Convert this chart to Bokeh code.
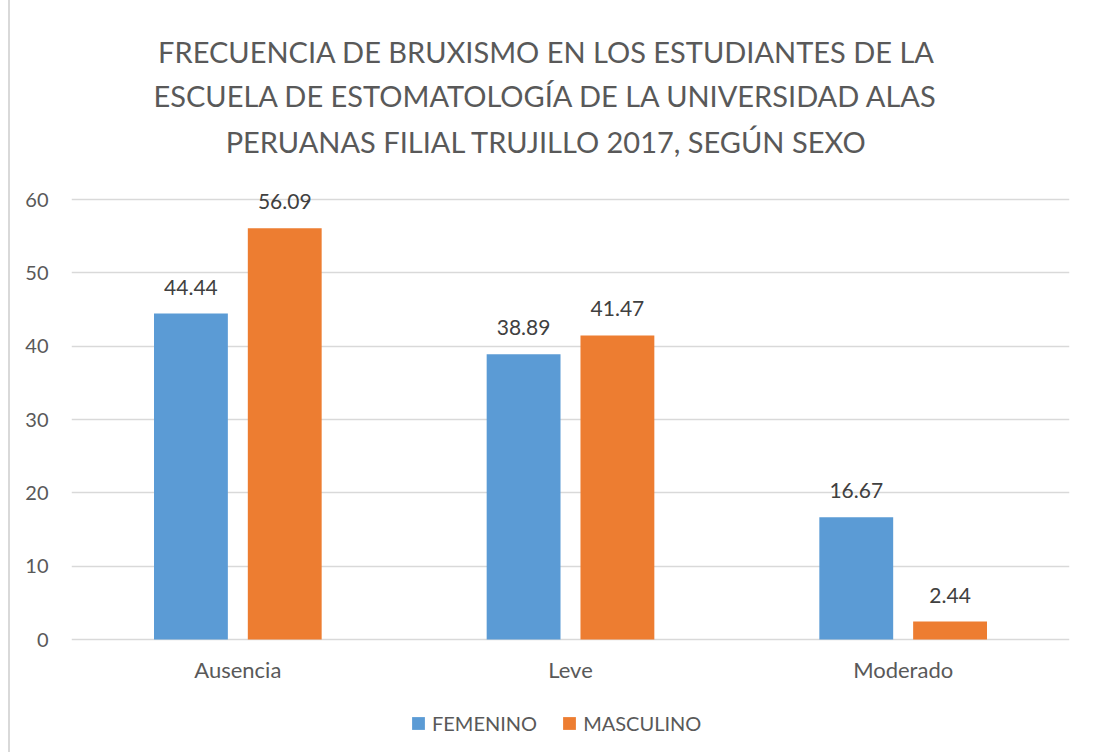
from bokeh.plotting import figure
from bokeh.models import (FactorRange, Range1d, FixedTicker, Legend, LegendItem,
                          LabelSet, Label, ColumnDataSource)
from bokeh.core.properties import value
from bokeh.transform import dodge
from bokeh.embed import file_html
from bokeh.resources import INLINE

categories = ["Ausencia", "Leve", "Moderado"]
femenino = [44.44, 38.89, 16.67]
masculino = [56.09, 41.47, 2.44]
series_names = ["FEMENINO", "MASCULINO"]
y_ticks = [0, 10, 20, 30, 40, 50, 60]
title_lines = [
    "FRECUENCIA DE BRUXISMO EN LOS ESTUDIANTES DE LA",
    "ESCUELA DE ESTOMATOLOGÍA DE LA UNIVERSIDAD ALAS",
    "PERUANAS FILIAL TRUJILLO 2017, SEGÚN SEXO",
]

FONT = "Lato"
GREY = "#595959"
DARK = "#404040"
BLUE = "#5B9BD5"
ORANGE = "#ED7D31"
GRID = "#d9d9d9"

src = ColumnDataSource(dict(
    cat=categories,
    fem=femenino,
    mas=masculino,
    fem_lbl=[f"{v:.2f}" for v in femenino],
    mas_lbl=[f"{v:.2f}" for v in masculino],
))

# frame spans the full height; 0..60 occupies the middle band (y=0 at 639px, 60 at 199px)
PX = 440 / 60.0
H = 752
p = figure(x_range=FactorRange(*categories), y_range=Range1d(-(H - 639) / PX, 639 / PX),
           width=1082, height=H, output_backend="svg", toolbar_location=None,
           x_axis_location=None,
           min_border_left=61, min_border_right=23, min_border_top=0,
           min_border_bottom=0)
p.styles = {"margin-left": "8px", "border-left": "2px solid #d9d9d9"}
p.x_range.range_padding = 0
p.outline_line_color = None

OFF = 0.141
W = 0.222
r1 = p.vbar(x=dodge("cat", -OFF, range=p.x_range), top="fem", width=W, source=src,
            fill_color=BLUE, line_color=None)
r2 = p.vbar(x=dodge("cat", OFF, range=p.x_range), top="mas", width=W, source=src,
            fill_color=ORANGE, line_color=None)

p.add_layout(LabelSet(x=dodge("cat", -OFF, range=p.x_range), y="fem", text="fem_lbl",
                      source=src, text_align="center", text_baseline="alphabetic",
                      y_offset=19, text_font=value(FONT), text_font_size=value("21px"),
                      text_color=DARK))
p.add_layout(LabelSet(x=dodge("cat", OFF, range=p.x_range), y="mas", text="mas_lbl",
                      source=src, text_align="center", text_baseline="alphabetic",
                      y_offset=19, text_font=value(FONT), text_font_size=value("21px"),
                      text_color=DARK))

# category labels under the baseline
p.add_layout(LabelSet(x="cat", y=0, text="cat", source=src, text_align="center",
                      text_baseline="alphabetic", y_offset=-38,
                      text_font=value(FONT), text_font_size=value("22px"),
                      text_color=GREY))

# title lines
for line, yy in zip(title_lines, [H - 51, H - 95, H - 141]):
    p.add_layout(Label(x=475, y=yy, x_units="screen", y_units="screen", text=line,
                       text_align="center", text_baseline="alphabetic",
                       text_font=FONT, text_font_size="29px", text_color=GREY))

p.xgrid.grid_line_color = None
p.ygrid.grid_line_color = GRID
p.ygrid.grid_line_width = 1.3
p.yaxis.ticker = FixedTicker(ticks=y_ticks)
p.yaxis.axis_line_color = None
p.yaxis.major_tick_line_color = None
p.yaxis.minor_tick_line_color = None
p.yaxis.major_label_text_font = FONT
p.yaxis.major_label_text_font_size = "20px"
p.yaxis.major_label_text_color = GREY
p.yaxis.major_label_standoff = 17

legend = Legend(items=[LegendItem(label=series_names[0], renderers=[r1]),
                       LegendItem(label=series_names[1], renderers=[r2])],
                orientation="horizontal", location=(339, H - 735),
                border_line_color=None, background_fill_alpha=0,
                glyph_width=16, glyph_height=16, label_standoff=6, spacing=24,
                label_text_font=FONT, label_text_font_size="20px",
                label_text_color=GREY, padding=0, margin=0)
p.add_layout(legend, "center")

open("out.html", "w").write(file_html(p, INLINE))
